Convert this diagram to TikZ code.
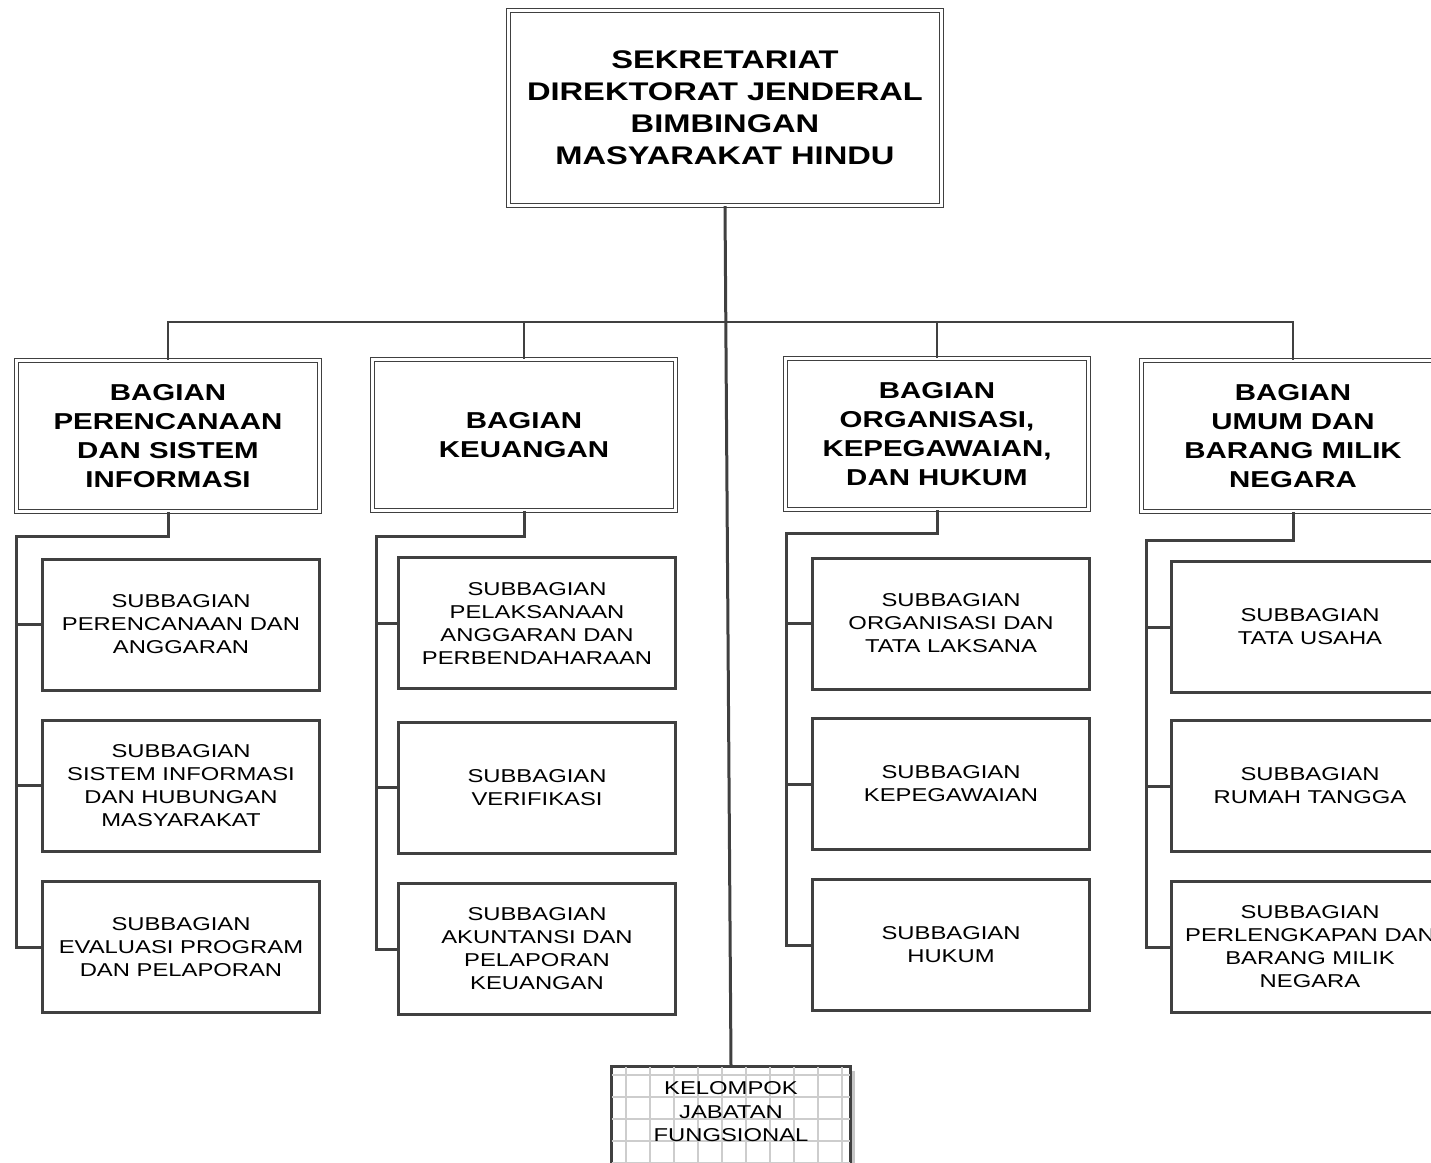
\documentclass[tikz,border=0pt]{standalone}
\usepackage{fontspec}
\setmainfont{Liberation Sans}
\newfontfamily\widefont[FakeStretch=1.28]{Liberation Sans}
\usetikzlibrary{shadows}
\definecolor{linegray}{RGB}{64,64,64}
\definecolor{gridgray}{RGB}{205,205,205}

\begin{document}
\begin{tikzpicture}[
    x=1pt, y=-1pt,
    headbox/.style={draw=linegray, double, double distance=2.5pt, line width=1.4pt, align=center, minimum width=433pt, minimum height=195pt, font=\widefont\fontsize{25.5}{32}\selectfont\bfseries},
    bagbox/.style={draw=linegray, double, double distance=2.5pt, line width=1.4pt, align=center, minimum width=303pt, minimum height=151pt, font=\widefont\fontsize{23}{29}\selectfont\bfseries},
    subbox/.style={draw=linegray, line width=3pt, align=center, minimum width=277pt, minimum height=131pt, font=\widefont\fontsize{18.6}{23}\selectfont},
    fungbox/.style={draw=linegray, line width=2pt, fill=white, minimum width=238pt, minimum height=160pt, drop shadow={shadow xshift=5pt, shadow yshift=-4pt, fill=gray!45, opacity=1}},
    fungtxt/.style={align=center, font=\widefont\fontsize{18.6}{23.5}\selectfont},
    link/.style={draw=linegray, line width=3pt},
    gridln/.style={draw=gridgray, line width=1.5pt}
]
  \useasboundingbox (0,0) rectangle (1431,1162);
  \clip (0,0) rectangle (1431,1162);

  % top
  \node[headbox] (sekr) at (725,108) {SEKRETARIAT\\DIREKTORAT JENDERAL\\BIMBINGAN\\MASYARAKAT HINDU};

  % bagian
  \node[bagbox] (bag1) at (168,436) {BAGIAN\\PERENCANAAN\\DAN SISTEM\\INFORMASI};
  \node[bagbox] (bag2) at (524,435) {BAGIAN\\KEUANGAN};
  \node[bagbox] (bag3) at (937,434) {BAGIAN\\ORGANISASI,\\KEPEGAWAIAN,\\DAN HUKUM};
  \node[bagbox] (bag4) at (1293,436) {BAGIAN\\UMUM DAN\\BARANG MILIK\\NEGARA};

  % subbagian
  \node[subbox] (sub11) at (181,624.5) {SUBBAGIAN\\PERENCANAAN DAN\\ANGGARAN};
  \node[subbox] (sub12) at (181,785.5) {SUBBAGIAN\\SISTEM INFORMASI\\DAN HUBUNGAN\\MASYARAKAT};
  \node[subbox] (sub13) at (181,947) {SUBBAGIAN\\EVALUASI PROGRAM\\DAN PELAPORAN};
  \node[subbox] (sub21) at (537,623) {SUBBAGIAN\\PELAKSANAAN\\ANGGARAN DAN\\PERBENDAHARAAN};
  \node[subbox] (sub22) at (537,787.5) {SUBBAGIAN\\VERIFIKASI};
  \node[subbox] (sub23) at (537,949) {SUBBAGIAN\\AKUNTANSI DAN\\PELAPORAN\\KEUANGAN};
  \node[subbox] (sub31) at (951,623.5) {SUBBAGIAN\\ORGANISASI DAN\\TATA LAKSANA};
  \node[subbox] (sub32) at (951,784) {SUBBAGIAN\\KEPEGAWAIAN};
  \node[subbox] (sub33) at (951,945) {SUBBAGIAN\\HUKUM};
  \node[subbox] (sub41) at (1310,627) {SUBBAGIAN\\TATA USAHA};
  \node[subbox] (sub42) at (1310,786) {SUBBAGIAN\\RUMAH TANGGA};
  \node[subbox] (sub43) at (1310,947) {SUBBAGIAN\\PERLENGKAPAN DAN\\BARANG MILIK\\NEGARA};

  % kelompok jabatan fungsional
  \node[fungbox, anchor=north] (kfung) at (731,1066) {};
  \begin{scope}
    \clip (kfung.south west) rectangle (kfung.north east);
    \foreach \gx in {626,650,...,850} \draw[gridln] (\gx,1060) -- (\gx,1240);
    \foreach \gy in {1075,1097,...,1240} \draw[gridln] (600,\gy) -- (860,\gy);
  \end{scope}
  \draw[draw=linegray, line width=2pt] (kfung.south west) rectangle (kfung.north east);
  \node[fungtxt] (kfungtxt) at (731,1112) {KELOMPOK\\JABATAN\\FUNGSIONAL};

  % connectors
  \coordinate (bus) at (726,322);
  \draw[link, line width=2.5pt] (bag1.north) |- (bus) -| (bag4.north);
  \draw[link, line width=2.5pt] (bag2.north) -- (bag2.north |- bus);
  \draw[link, line width=2.5pt] (bag3.north) -- (bag3.north |- bus);
  \draw[link] (sekr.south) -- (kfung.north);

  \coordinate (l1) at (16,536);
  \coordinate (l2) at (376,536);
  \coordinate (l3) at (786,533);
  \coordinate (l4) at (1146,540);
  \draw[link] (bag1.south) |- (l1) |- (sub13.west);
  \draw[link] (l1 |- sub11.west) -- (sub11.west);
  \draw[link] (l1 |- sub12.west) -- (sub12.west);
  \draw[link] (bag2.south) |- (l2) |- (sub23.west);
  \draw[link] (l2 |- sub21.west) -- (sub21.west);
  \draw[link] (l2 |- sub22.west) -- (sub22.west);
  \draw[link] (bag3.south) |- (l3) |- (sub33.west);
  \draw[link] (l3 |- sub31.west) -- (sub31.west);
  \draw[link] (l3 |- sub32.west) -- (sub32.west);
  \draw[link] (bag4.south) |- (l4) |- (sub43.west);
  \draw[link] (l4 |- sub41.west) -- (sub41.west);
  \draw[link] (l4 |- sub42.west) -- (sub42.west);
\end{tikzpicture}
\end{document}
